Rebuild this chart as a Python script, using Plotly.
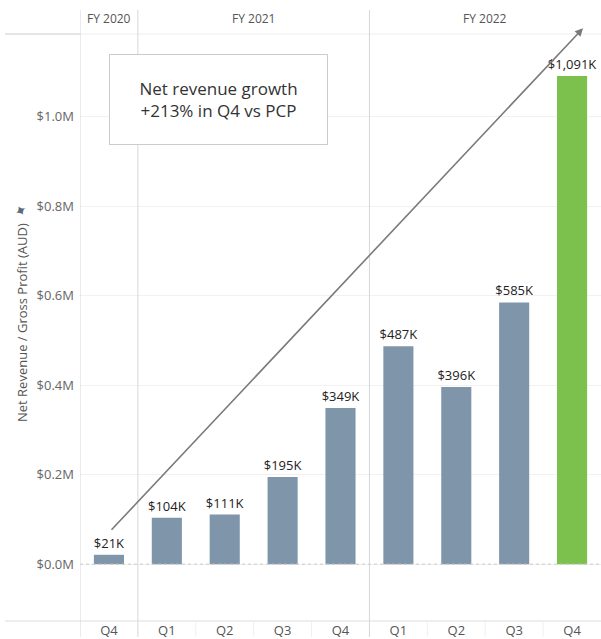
import plotly.graph_objects as go

quarters = ["Q4", "Q1", "Q2", "Q3", "Q4", "Q1", "Q2", "Q3", "Q4"]
fiscal_years = ["FY 2020", "FY 2021", "FY 2022"]
fy_counts = [1, 4, 4]
revenue_k = [21, 104, 111, 195, 349, 487, 396, 585, 1091]
y_ticks = [0, 200000, 400000, 600000, 800000, 1000000]
y_tick_labels = ["$0.0M", "$0.2M", "$0.4M", "$0.6M", "$0.8M", "$1.0M"]

W, H = 601, 639
L, R, T, B = 80, 0, 34, 16
PH = H - T - B
n = len(quarters)
xs = list(range(n))

colors = ["#7f96aa"] * (n - 1) + ["#7cc14d"]
labels = [f"${v:,}K" for v in revenue_k]

fig = go.Figure()
fig.add_trace(go.Bar(
    x=xs, y=[v * 1000 for v in revenue_k],
    marker=dict(color=colors, line=dict(width=0)),
    width=0.52,
    text=labels, textposition="outside", constraintext="none",
    outsidetextfont=dict(family="Open Sans", size=13, color="#222"),
    textfont=dict(family="Open Sans", size=13, color="#222"),
    cliponaxis=False, hoverinfo="skip",
))

ymin, ymax = -127000, 1185000

def py(pix):
    return (H - B - pix) / PH

shapes = []
shapes.append(dict(type="line", xref="paper", yref="y", x0=0, x1=1, y0=0, y1=0,
                   line=dict(color="#c8c8c8", width=1, dash="dot")))
shapes.append(dict(type="line", xref="paper", yref="paper", x0=-75 / 521, x1=1, y0=0, y1=0,
                   line=dict(color="#dddddd", width=1)))
shapes.append(dict(type="line", xref="paper", yref="paper", x0=-75 / 521, x1=0, y0=1, y1=1,
                   line=dict(color="#cccccc", width=1)))
shapes.append(dict(type="line", xref="paper", yref="paper", x0=0, x1=1, y0=1, y1=1,
                   line=dict(color="#eeeeee", width=1)))
bounds = [-0.5]
acc = -0.5
for c in fy_counts[:-1]:
    acc += c
    bounds.append(acc)
for b in bounds:
    shapes.append(dict(type="line", xref="x", yref="paper", x0=b, x1=b,
                       y0=py(H), y1=py(10), line=dict(color="#d6d6d6", width=1)))
for i in range(1, n):
    b = i - 0.5
    if b in bounds:
        continue
    shapes.append(dict(type="line", xref="x", yref="paper", x0=b, x1=b,
                       y0=py(H), y1=0, line=dict(color="#f0f0f0", width=1)))

annotations = []
start = -0.5
for fy, c in zip(fiscal_years, fy_counts):
    annotations.append(dict(x=start + c / 2, y=py(18), xref="x", yref="paper",
                            yanchor="middle", text=fy, showarrow=False,
                            font=dict(family="Open Sans", size=12, color="#555")))
    start += c

annotations.append(dict(x=8.19, y=1198000, xref="x", yref="y",
                        ax=0.02, ay=73500, axref="x", ayref="y",
                        text="", showarrow=True, arrowhead=2, arrowsize=1,
                        arrowwidth=1.6, arrowcolor="#7a7a7a"))
annotations.append(dict(x=1.89, y=1039000, xref="x", yref="y",
                        text="Net revenue growth<br>+213% in Q4 vs PCP",
                        showarrow=False, width=217, height=89,
                        bordercolor="#cccccc", borderwidth=1, borderpad=0,
                        bgcolor="white",
                        font=dict(family="Open Sans", size=17, color="#333")))
annotations.append(dict(x=-58 / 521, y=py(324), xref="paper", yref="paper",
                        yanchor="middle", xanchor="center",
                        text="Net Revenue / Gross Profit (AUD)", textangle=-90,
                        showarrow=False,
                        font=dict(family="Open Sans", size=13, color="#555")))
annotations.append(dict(x=-59 / 521, y=py(212), xref="paper", yref="paper",
                        yanchor="middle", xanchor="center",
                        text="✦", showarrow=False, textangle=-30,
                        font=dict(family="DejaVu Sans", size=15, color="#5a6b7b")))

fig.update_layout(
    width=W, height=H,
    margin=dict(l=L, r=R, t=T, b=B),
    paper_bgcolor="white", plot_bgcolor="white",
    showlegend=False,
    shapes=shapes, annotations=annotations,
    xaxis=dict(tickmode="array", tickvals=xs, ticktext=quarters,
               range=[-0.5, n - 0.5], showgrid=False, zeroline=False,
               showline=False, ticks="", ticklen=0,
               tickfont=dict(family="Open Sans", size=13, color="#555")),
    yaxis=dict(range=[ymin, ymax], tickmode="array", tickvals=y_ticks,
               ticktext=y_tick_labels, showgrid=True, gridcolor="#f1f1f1",
               zeroline=False, showline=False, ticks="", ticklabelstandoff=5,
               tickfont=dict(family="Open Sans", size=13, color="#666")),
)

fig.write_html("out.html")
